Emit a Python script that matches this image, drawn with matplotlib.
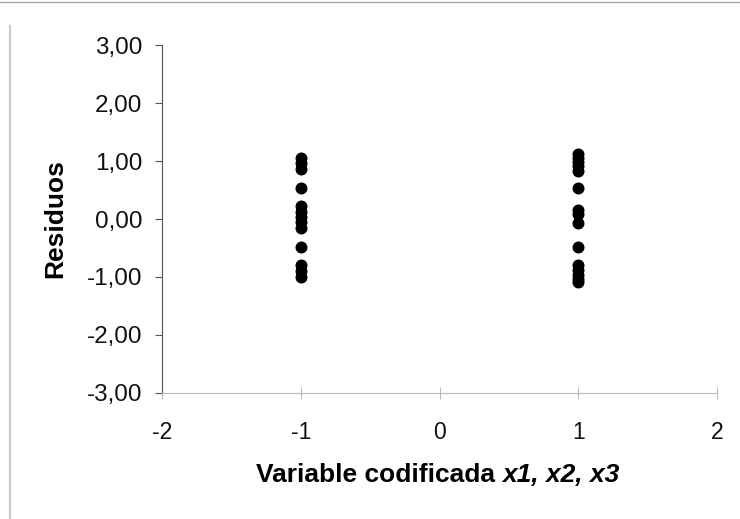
import matplotlib.pyplot as plt
from matplotlib.ticker import FuncFormatter

x_neg = [-1] * 13
res_neg = [1.06, 0.96, 0.87, 0.53, 0.22, 0.12, 0.03, -0.06, -0.15, -0.48, -0.80, -0.90, -1.00]
x_pos = [1] * 15
res_pos = [1.13, 1.06, 0.99, 0.91, 0.83, 0.53, 0.16, 0.08, -0.07, -0.48, -0.80, -0.88, -0.96, -1.03, -1.09]

plt.rcParams['font.family'] = ['Liberation Sans', 'DejaVu Sans']

fig = plt.figure(figsize=(7.4, 5.19), dpi=100)
ax = fig.add_axes([0.219, 0.243, 0.750, 0.670])
ax.scatter(x_neg + x_pos, res_neg + res_pos, s=58, color='black', zorder=3)

ax.set_xlim(-2, 2)
ax.set_ylim(-3, 3)
ax.set_xticks([-2, -1, 0, 1, 2])
ax.set_xticklabels(['-2', '-1', '0', '1', '2'])
ax.set_yticks([-3, -2, -1, 0, 1, 2, 3])
ax.yaxis.set_major_formatter(FuncFormatter(lambda v, p: ('%.2f' % v).replace('.', ',')))

for s in ['top', 'right']:
    ax.spines[s].set_visible(False)
ax.spines['left'].set_color('#555555')
ax.spines['bottom'].set_color('#bbbbbb')
ax.tick_params(axis='y', direction='out', length=5, color='#555555', labelsize=17.5, pad=9,
               labelcolor='#111111')
ax.tick_params(axis='x', direction='inout', length=8, color='#bbbbbb', labelsize=16.5, pad=16,
               labelcolor='#111111')

ax.set_ylabel('Residuos', fontsize=19, fontweight='bold', labelpad=14)

# x label: normal bold part + bold italic part
fig.canvas.draw()
r = fig.canvas.get_renderer()
y_lab = 1 - 475 / 519
t1 = fig.text(0, y_lab, 'Variable codificada ', fontsize=19, fontweight='bold', va='center')
t2 = fig.text(0, y_lab, 'x1, x2, x3', fontsize=19, fontweight='bold', style='italic', va='center')
w1 = t1.get_window_extent(r).width
w2 = t2.get_window_extent(r).width
x0 = 438 - (w1 + w2) / 2
t1.set_x(x0 / 740)
t2.set_x((x0 + w1) / 740)

fig.add_artist(plt.Line2D([0.013, 0.013], [0.0, 0.95], color='#cccccc', lw=1.5))
fig.add_artist(plt.Line2D([0.0, 1.0], [0.996, 0.996], color='#aaaaaa', lw=1))

fig.savefig('out.png', dpi=100)
